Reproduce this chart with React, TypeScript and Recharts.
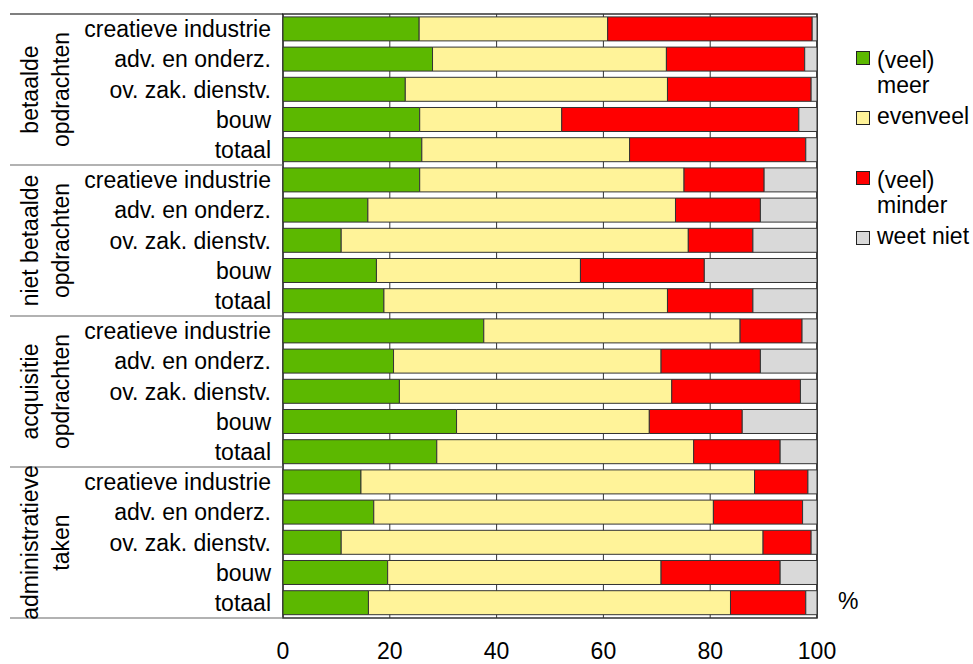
import React from "react";
import { BarChart, Bar, XAxis, YAxis, CartesianGrid, ReferenceArea } from "recharts";

const sectors = ["creatieve industrie", "adv. en onderz.", "ov. zak. dienstv.", "bouw", "totaal"];
const groupLines = [
  ["betaalde", "opdrachten"],
  ["niet betaalde", "opdrachten"],
  ["acquisitie", "opdrachten"],
  ["administratieve", "taken"],
];
const meer = [25.5, 28, 22.9, 25.6, 26, 25.6, 15.9, 10.9, 17.5, 18.9, 37.6, 20.7, 21.8, 32.5, 28.8, 14.6, 17, 10.9, 19.6, 16];
const evenveel = [35.3, 43.8, 49.1, 26.6, 38.9, 49.5, 57.6, 65, 38.2, 53.1, 48, 50.1, 51, 36.1, 48.1, 73.7, 63.6, 79, 51.2, 67.8];
const minder = [38.3, 25.9, 26.9, 44.4, 33, 15, 15.9, 12.1, 23.2, 16, 11.6, 18.6, 24.1, 17.4, 16.2, 10, 16.7, 9, 22.3, 14.1];
const weetNiet = [0.9, 2.3, 1.1, 3.4, 2.1, 9.9, 10.6, 12, 21.1, 12, 2.8, 10.6, 3.1, 14, 6.9, 1.7, 2.7, 1.1, 6.9, 2.1];
const xTicks = [0, 20, 40, 60, 80, 100];

const series = [
  { key: "meer", color: "#5CB800", legend: ["(veel)", "meer"] },
  { key: "evenveel", color: "#FFF399", legend: ["evenveel"] },
  { key: "minder", color: "#FF0000", legend: ["(veel)", "minder"] },
  { key: "weetNiet", color: "#D9D9D9", legend: ["weet niet"] },
];

const data = meer.map((_, i) => {
  const gi = Math.floor(i / sectors.length);
  const si = i % sectors.length;
  return {
    id: `${gi}-${si}`,
    group: gi,
    meer: meer[i],
    evenveel: evenveel[i],
    minder: minder[i],
    weetNiet: weetNiet[i],
  };
});

const FONT = '"Liberation Sans", Arial, Helvetica, sans-serif';
const GROUP_W = 83;
const MAIN_W = 200;
const GROUP_TICK_MARGIN = 45;
const SEP_LEFT = 10;

const GroupTick = (props: any) => {
  const { x, y, payload, height, visibleTicksCount, index } = props;
  const band = (height || 604) / (visibleTicksCount || 4);
  const plotLeft = x + GROUP_TICK_MARGIN + MAIN_W;
  const lines = groupLines[Number(payload.value)] || [];
  const top = y - band / 2;
  const bottom = y + band / 2;
  const isLast = index === (visibleTicksCount || 4) - 1;
  return (
    <g>
      <line x1={SEP_LEFT} x2={plotLeft} y1={top} y2={top} stroke={index === 0 ? "#000" : "#666"} strokeWidth={1.2} />
      {isLast && <line x1={SEP_LEFT} x2={plotLeft} y1={bottom} y2={bottom} stroke="#666" strokeWidth={1.2} />}
      <text
        transform={`translate(${x},${y}) rotate(-90)`}
        textAnchor="middle"
        fontSize={23}
        fill="#000"
        fontFamily={FONT}
      >
        {lines.map((l, k) => (
          <tspan key={k} x={0} y={k * 31}>
            {l}
          </tspan>
        ))}
      </text>
    </g>
  );
};

export default function App() {
  return (
    <div style={{ position: "absolute", left: 0, top: 0, width: 973, height: 664, fontFamily: FONT, background: "#fff" }}>
      <BarChart
        width={973}
        height={664}
        data={data}
        layout="vertical"
        margin={{ top: 14, right: 156, bottom: 0, left: 0 }}
        barCategoryGap="9.6%"
      >
        <CartesianGrid horizontal={false} vertical={true} stroke="#333" yAxisId="a" />
        <XAxis
          type="number"
          domain={[0, 100]}
          ticks={xTicks}
          tickLine={false}
          axisLine={false}
          tickSize={0}
          tickMargin={25}
          height={46}
          tick={{ fontSize: 23, fill: "#000", fontFamily: FONT }}
        />
        <YAxis
          yAxisId="b"
          type="category"
          dataKey="group"
          allowDuplicatedCategory={false}
          width={GROUP_W}
          tickLine={false}
          axisLine={false}
          tickSize={0}
          tickMargin={GROUP_TICK_MARGIN}
          interval={0}
          tick={<GroupTick />}
        />
        <YAxis
          yAxisId="a"
          type="category"
          dataKey="id"
          width={MAIN_W}
          tickLine={false}
          axisLine={false}
          tickSize={0}
          tickMargin={12}
          interval={0}
          tick={{ fontSize: 23, fill: "#000", fontFamily: FONT }}
          tickFormatter={(v: string) => sectors[Number(String(v).split("-")[1])]}
        />
        {series.map((s) => (
          <Bar
            key={s.key}
            dataKey={s.key}
            stackId="a"
            yAxisId="a"
            fill={s.color}
            stroke="#333"
            strokeWidth={1}
            isAnimationActive={false}
          />
        ))}
        <ReferenceArea x1={0} x2={100} yAxisId="a" fill="none" fillOpacity={0} stroke="#333" strokeWidth={1.5} />
      </BarChart>
      <div style={{ position: "absolute", left: 856, top: 51, fontSize: 23, lineHeight: "25px", color: "#000" }}>
        {series.map((s) => (
          <div key={s.key} style={{ height: 60, display: "flex", alignItems: "flex-start" }}>
            <div
              style={{
                width: 14,
                height: 14,
                boxSizing: "border-box",
                border: "1px solid #222",
                background: s.color,
                flex: "0 0 auto",
              }}
            />
            <div style={{ marginLeft: 7, marginTop: s.legend.length > 1 ? -3.5 : -7.5 }}>
              {s.legend.map((l, k) => (
                <div key={k}>{l}</div>
              ))}
            </div>
          </div>
        ))}
      </div>
      <div style={{ position: "absolute", left: 838, top: 589, fontSize: 23, lineHeight: "25px", color: "#000" }}>%</div>
    </div>
  );
}
